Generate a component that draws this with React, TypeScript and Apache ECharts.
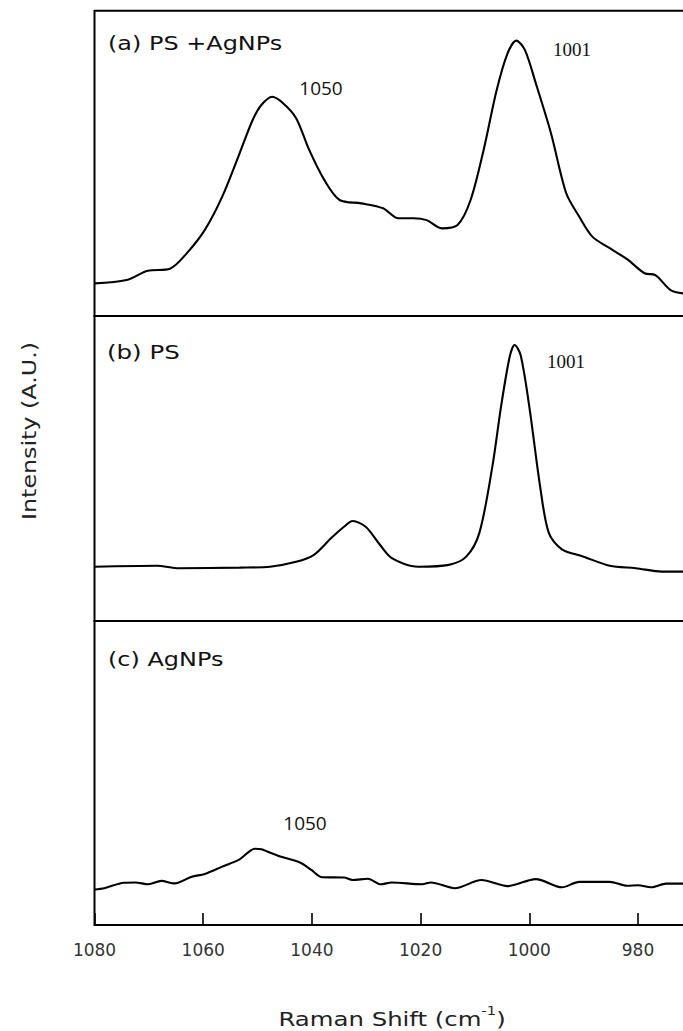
import React, { useEffect, useRef } from "react";
import * as echarts from "echarts";

// x ticks (Raman shift, cm^-1)
const xTicks = [1080, 1060, 1040, 1020, 1000, 980];

// (a) PS + AgNPs
const shiftA = [1080.0, 1074.1, 1070.2, 1066.1, 1063.0, 1059.7, 1056.5, 1053.3, 1050.9, 1049.3, 1047.3, 1045.3, 1042.9, 1040.5, 1037.7, 1034.9, 1030.9, 1026.9, 1024.1, 1021.3, 1018.9, 1016.1, 1013.2, 1010.8, 1008.4, 1006.0, 1004.0, 1002.4, 1000.8, 998.8, 996.0, 993.2, 990.8, 988.4, 985.2, 982.0, 978.8, 976.8, 974.0, 971.7];
const intensityA = [10.7, 11.8, 14.8, 15.5, 20.6, 28.2, 39.1, 53.3, 64.2, 69.1, 71.8, 69.7, 64.8, 54.4, 44.5, 38.0, 36.9, 35.3, 32.0, 32.0, 31.4, 28.7, 29.8, 38.0, 54.4, 74.0, 86.0, 90.2, 87.1, 76.2, 59.8, 40.2, 32.5, 26.0, 22.2, 18.6, 14.0, 13.4, 8.5, 7.4];

// (b) PS
const shiftB = [1080.0, 1068.5, 1064.5, 1053.3, 1047.7, 1042.9, 1039.7, 1036.5, 1034.1, 1032.5, 1030.1, 1027.7, 1025.3, 1020.5, 1014.8, 1011.6, 1009.2, 1006.8, 1005.2, 1003.6, 1002.7, 1001.6, 1000.0, 998.0, 996.4, 994.0, 990.0, 985.2, 980.4, 975.6, 971.7];
const intensityB = [17.8, 18.1, 17.3, 17.5, 17.8, 19.4, 21.6, 27.1, 30.9, 32.8, 30.9, 25.5, 20.6, 17.8, 18.4, 21.1, 28.8, 50.6, 70.3, 86.7, 90.5, 87.2, 70.3, 44.0, 28.8, 23.5, 21.1, 18.1, 17.3, 16.2, 16.2];

// (c) AgNPs
const shiftC = [1080.0, 1078.2, 1074.6, 1072.5, 1070.1, 1067.7, 1065.3, 1062.1, 1059.7, 1056.5, 1053.3, 1050.5, 1049.3, 1046.1, 1042.1, 1040.1, 1038.1, 1034.1, 1032.5, 1029.7, 1027.3, 1025.3, 1019.7, 1018.1, 1013.7, 1008.8, 1004.0, 998.8, 994.0, 990.8, 985.2, 982.0, 980.0, 977.6, 974.8, 971.7];
const intensityC = [11.7, 12.1, 13.9, 14.0, 13.4, 14.5, 13.7, 15.9, 16.8, 19.2, 21.6, 25.1, 24.9, 22.7, 20.5, 18.1, 15.7, 15.6, 14.8, 15.2, 13.4, 14.0, 13.4, 14.0, 12.1, 14.8, 12.8, 15.1, 12.4, 14.2, 14.2, 12.9, 13.1, 12.4, 13.6, 13.6];

const panelLabels = ["(a) PS +AgNPs", "(b) PS", "(c) AgNPs"];
const peakLabels = ["1050", "1001", "1001", "1050"];

const zip = (xs: number[], ys: number[]) => xs.map((x, i) => [x, ys[i]]);

export default function App() {
  const ref = useRef<HTMLDivElement>(null);
  useEffect(() => {
    if (!ref.current) return;
    const chart = echarts.init(ref.current, undefined, { renderer: "svg" });
    const left = 94.5;
    const width = 652.2;
    const tops = [10.7, 316, 621];
    const heights = [305.3, 305, 304];
    const grids = tops.map((t, i) => ({
      left,
      top: t,
      width,
      height: heights[i],
      show: true,
      borderColor: "#000",
      borderWidth: 2,
      backgroundColor: "transparent",
    }));
    const xAxes = [0, 1, 2].map((i) => ({
      type: "value",
      gridIndex: i,
      min: 960,
      max: 1080,
      interval: 20,
      inverse: true,
      axisLine: { show: false },
      splitLine: { show: false },
      axisTick: {
        show: i === 2,
        inside: true,
        length: 12,
        lineStyle: { color: "#000", width: 1.6 },
      },
      axisLabel: {
        show: i === 2,
        margin: 16,
        fontSize: 17,
        fontFamily: "DejaVu Sans",
        color: "#333",
        formatter: (v: number) => (xTicks.includes(v) ? String(v) : ""),
      },
    }));
    const yAxes = [0, 1, 2].map((i) => ({
      type: "value",
      gridIndex: i,
      min: 0,
      max: 100,
      show: false,
    }));
    const mk = (xs: number[], ys: number[], i: number) => ({
      type: "line",
      xAxisIndex: i,
      yAxisIndex: i,
      data: zip(xs, ys),
      showSymbol: false,
      smooth: 0.3,
      lineStyle: { color: "#000", width: 2.1 },
      silent: true,
    });
    const txt = (
      text: string,
      x: number,
      y: number,
      font: string,
      size: number,
      align: string,
      scaleX = 1
    ) => ({
      type: "text",
      x,
      y,
      scaleX,
      style: {
        text,
        fontSize: size,
        fontFamily: font,
        fill: "#111",
        align,
        verticalAlign: "middle",
        textAlign: align,
        textVerticalAlign: "middle",
      },
    });
    chart.setOption({
      animation: false,
      grid: grids,
      xAxis: xAxes,
      yAxis: yAxes,
      series: [mk(shiftA, intensityA, 0), mk(shiftB, intensityB, 1), mk(shiftC, intensityC, 2)],
      graphic: [
        txt(panelLabels[0], 108, 43, "DejaVu Sans", 19, "left", 1.26),
        txt(panelLabels[1], 107, 353, "DejaVu Sans", 19, "left", 1.29),
        txt(panelLabels[2], 108, 659, "DejaVu Sans", 19, "left", 1.26),
        txt(peakLabels[0], 321, 88, "Open Sans", 19, "center"),
        txt(peakLabels[1], 572, 49, "Liberation Serif", 19, "center"),
        txt(peakLabels[2], 566, 361, "Liberation Serif", 19, "center"),
        txt(peakLabels[3], 305, 823, "Open Sans", 19, "center"),
        {
          type: "text",
          x: 29,
          y: 431,
          rotation: Math.PI / 2,
          scaleX: 1.19,
          style: {
            text: "Intensity (A.U.)",
            fontSize: 20,
            fontFamily: "DejaVu Sans",
            fill: "#222",
            align: "center",
            verticalAlign: "middle",
            textAlign: "center",
            textVerticalAlign: "middle",
          },
        },
        {
          type: "text",
          x: 392,
          y: 1017,
          scaleX: 1.22,
          style: {
            text: "{m|Raman Shift (cm}{s|-1}{m|)}",
            align: "center",
            verticalAlign: "middle",
            textAlign: "center",
            textVerticalAlign: "middle",
            rich: {
              m: { fontSize: 20, fontFamily: "DejaVu Sans", fill: "#222", color: "#222", lineHeight: 24, verticalAlign: "bottom" },
              s: { fontSize: 12, fontFamily: "DejaVu Sans", fill: "#222", color: "#222", lineHeight: 24, verticalAlign: "top" },
            },
          },
        },
      ],
    });
    return () => chart.dispose();
  }, []);
  return (
    <div style={{ position: "absolute", left: 0, top: 0, width: 683, height: 1031, overflow: "hidden", background: "#fff" }}>
      <div ref={ref} style={{ width: 760, height: 1031 }} />
    </div>
  );
}
